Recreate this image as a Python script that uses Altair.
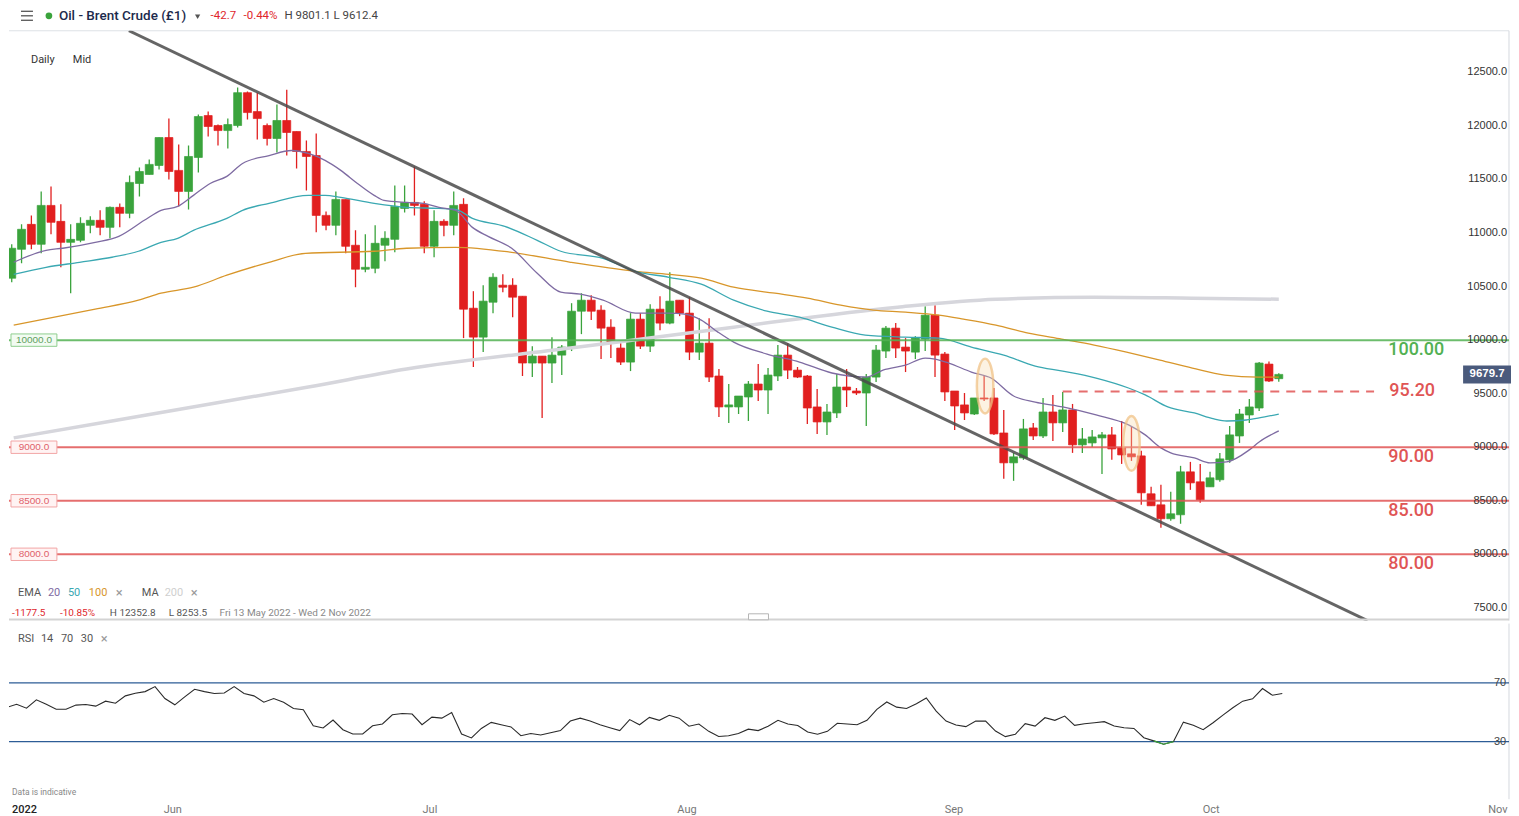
import altair as alt
import pandas as pd

FONT = "Roboto"
AXFONT = "Liberation Sans"
GREEN = "#3aa33c"
RED = "#e11f1f"
LEVEL_RED = "#e05555"
LEVEL_GREEN = "#52b152"

# ---------------- data ----------------
# daily bar index (IG style 6 bars / week), bar 0 = Sun 15 May 2022
bar_index = list(range(-1, 129))
open_price = [10578,10848,11081,10895,11258,11109,10913,10932,11072,11119,
              11053,11240,11184,11463,11547,11631,11892,11585,11389,11706,
              12097,12004,11957,12004,12311,12134,12004,11883,12051,11948,
              11762,11724,11165,11072,11314,10886,10662,10671,10886,10941,
              11230,11286,11268,10876,11109,11072,11268,10298,10028,10354,
              10513,10513,10410,9786,9851,9786,9860,9926,10270,10373,
              10280,10121,9926,9795,10196,9944,10289,10159,10373,10252,
              9888,9972,9665,9376,9376,9469,9590,9534,9665,9860,
              9720,9665,9376,9236,9320,9562,9525,9506,9655,9898,
              10112,9935,9888,10009,10233,9870,9525,9395,9310,9460,
              9460,9133,8854,8900,9180,9105,9329,9227,9348,9022,
              9040,9087,9115,8994,8938,8919,8565,8462,8332,8369,
              8770,8677,8630,8696,8882,9105,9301,9366,9776,9640]
high_price = [10895,11081,11165,11389,11435,11268,11081,11147,11156,11212,
              11249,11277,11538,11613,11687,11892,12069,11827,11818,12106,
              12134,12013,12069,12358,12321,12311,12023,12200,12339,11948,
              11864,11929,11202,11389,11314,11025,10988,11072,11016,11445,
              11445,11622,11296,11212,11128,11389,11324,10457,10513,10625,
              10615,10578,10410,9944,9851,10028,9954,10345,10438,10420,
              10326,10196,9972,10252,10252,10336,10410,10634,10373,10401,
              10205,10205,9730,9590,9478,9618,9776,9739,9954,9972,
              9749,9674,9544,9404,9683,9730,9553,9683,9954,10131,
              10159,10019,10037,10317,10326,9888,9525,9506,9460,9674,
              9553,9348,8947,9264,9227,9460,9488,9516,9404,9180,
              9161,9143,9189,9245,9189,8966,8630,8649,8583,8826,
              8863,8844,8770,8947,9199,9357,9450,9795,9801,9690]
low_price = [10541,10718,10848,10811,10988,10680,10438,10913,10997,10979,
             10951,11053,11137,11342,11547,11594,11501,11249,11221,11566,
             11901,11818,11790,11985,12060,11874,11818,11752,11724,11603,
             11398,11007,11025,10979,10811,10494,10634,10625,10736,10820,
             11193,11165,10811,10774,10969,10979,10019,9749,9888,10252,
             10448,10214,9665,9655,9273,9599,9674,9898,10056,10187,
             9823,9832,9767,9711,9916,9888,10093,10149,10224,9814,
             9814,9609,9282,9227,9310,9245,9432,9310,9618,9637,
             9646,9217,9124,9115,9273,9376,9488,9199,9609,9832,
             9832,9702,9823,9898,9655,9432,9161,9254,9301,9432,
             9115,8705,8686,8882,9068,9087,9059,9143,8947,8947,
             9003,8751,8882,8844,8872,8462,8453,8248,8313,8285,
             8602,8481,8630,8677,8854,9040,9227,9338,9609,9612]
close_price = [10858,11035,10895,11258,11100,10913,10941,11091,11119,11053,
               11240,11184,11473,11575,11641,11892,11575,11389,11715,12088,
               11995,11957,12013,12311,12125,12069,11883,12051,11939,11762,
               11715,11165,11072,11314,10876,10662,10680,10904,10951,11249,
               11286,11258,10876,11109,11072,11258,10289,10028,10364,10587,
               10494,10401,9786,9851,9786,9860,9935,10270,10373,10270,
               10112,9972,9795,10196,9944,10289,10159,10364,10252,9888,
               9972,9655,9376,9395,9478,9590,9534,9674,9860,9720,
               9655,9366,9236,9329,9562,9534,9506,9655,9907,10112,
               9926,9898,10019,10233,9860,9516,9385,9320,9460,9450,
               9124,8854,8910,9171,9105,9329,9227,9348,9022,9077,
               9096,9115,8984,8928,8910,8574,8453,8332,8378,8770,
               8667,8509,8714,8891,9115,9310,9376,9786,9618,9680]
rsi_value = [53.3,55.5,52.8,58.5,55.5,52.1,52.1,54.9,55.3,54.2,
             57.6,56.2,61.2,63.0,64.1,67.5,59.4,55.1,60.5,65.7,
             64.1,62.8,63.2,67.5,62.8,61.2,56.9,59.4,56.9,52.6,
             51.7,40.8,39.3,44.7,38.1,35.2,35.2,40.8,42.0,48.3,
             49.2,48.8,41.5,46.7,46.0,49.9,35.2,32.5,39.0,43.1,
             41.5,40.0,34.0,35.5,34.5,36.0,37.5,44.0,46.0,44.0,
             41.5,39.5,37.5,45.0,41.5,46.5,44.5,48.0,46.0,40.5,
             42.0,37.0,33.5,34.0,35.5,38.5,37.5,40.5,44.5,42.0,
             41.0,36.5,35.0,37.0,42.5,42.0,41.5,44.5,52.0,57.0,
             53.5,52.6,55.8,59.8,50.8,44.0,41.3,40.2,44.0,44.0,
             37.2,33.4,35.0,42.2,40.6,46.3,44.5,47.4,41.1,42.2,
             42.9,43.6,40.6,39.5,39.0,32.7,30.5,28.2,30.0,43.3,
             41.1,38.1,42.9,48.1,53.1,57.6,59.2,66.2,61.6,62.8]

ema20_k = [-0.8,2.5,4.2,7.5,9.9,12.5,14.2,15.9,17.5,19.2,20.9,22.5,25.2,27.5,29.2,30.9,
           32.5,34.2,35.9,36.9,39.2,40.9,42.5,44.2,45.9,47.5,49.9,52.5,54.9,56.9,59.2,
           62.5,65.9,67.5,69.2,70.9,72.5,75.9,79.2,82.5,86.0,87.7,90.0,92.0,93.0,94.4,
           96.7,98.7,101.0,103.2,106.0,109.4,112.7,114.4,116.0,117.0,119.4,121.0,122.7,
           125.0,126.0,128.0]
ema20_v = [10727,10839,10858,10913,10969,11119,11212,11249,11352,11463,11529,11650,11724,
           11771,11743,11678,11585,11463,11352,11305,11286,11277,11240,11212,11053,10969,
           10858,10625,10448,10429,10373,10252,10252,10242,10187,10075,9982,9870,9795,9693,
           9655,9720,9767,9832,9823,9786,9702,9646,9478,9422,9376,9301,9208,9115,8994,8947,
           8900,8854,8863,8975,9049,9152]
ema50_k = [-0.8,2.5,5.9,9.2,11.9,14.2,15.9,17.5,20.9,22.5,25.2,29.2,30.9,32.5,35.9,39.2,
           42.5,44.2,45.9,49.2,52.5,54.9,59.2,62.5,65.9,69.2,72.5,75.9,79.2,82.5,85.9,
           90.0,93.4,96.7,100.0,103.2,106.0,109.4,112.7,114.4,116.7,119.4,121.4,122.7,
           124.7,126.0,128.0]
ema50_v = [10615,10680,10727,10774,10830,10913,10951,11025,11137,11212,11277,11352,11352,
           11333,11277,11240,11230,11221,11137,11063,10932,10830,10764,10643,10587,10522,
           10373,10270,10214,10121,10047,10028,10019,9935,9860,9758,9711,9646,9553,9488,
           9376,9320,9264,9245,9254,9273,9310]
ema100_k = [-0.8,7.5,11.9,14.2,17.5,20.9,25.2,28.9,35.9,39.2,44.2,49.9,55.9,62.5,65.9,
            69.2,72.5,76.7,80.0,83.4,86.7,90.0,93.4,95.9,99.2,102.5,105.9,109.2,112.5,
            115.9,119.2,122.5,125.9,128.0]
ema100_v = [10140,10289,10373,10438,10494,10606,10727,10811,10830,10858,10867,10820,10727,
            10643,10615,10578,10494,10438,10392,10326,10280,10261,10233,10196,10140,10065,
            10009,9954,9888,9814,9739,9674,9655,9655]
ma200_k = [-0.8,9.2,19.2,29.2,39.2,55.9,72.5,89.2,99.2,109.2,119.2,128.0]
ma200_v = [9087,9245,9404,9562,9730,9926,10121,10308,10382,10401,10392,10382]

trend_k = [10.93, 137.03]
trend_v = [12889, 7381]

resistance_level = [10000]
support_levels = [9000, 8500, 8000]
dashed_level = 9520
dashed_from = 106
dashed_to = 137.7
big_level_values = [10000, 9000, 8500, 8000]
big_level_text = ["100.00", "90.00", "85.00", "80.00"]
big_level_color = [LEVEL_GREEN, LEVEL_RED, LEVEL_RED, LEVEL_RED]
price_ticks = [7500, 8000, 8500, 9000, 9500, 10000, 10500, 11000, 11500, 12000, 12500]
rsi_ticks = [70, 30]
month_names = ["Jun", "Jul", "Aug", "Sep", "Oct", "Nov"]
month_pos = [15.8, 41.8, 67.8, 94.8, 120.8, 149.8]
highlight_k = [98.1, 113.0]
highlight_v = [9571, 9036]
last_price = 9679.7

# ---------------- layout ----------------
W = 1503
HM = 591
HR = 176
XS = alt.Scale(domain=[-0.77, 150.93], nice=False, zero=False)
PS = alt.Scale(domain=[7381, 12889], nice=False, zero=False)
RS = alt.Scale(domain=[-9.3, 110.5], nice=False, zero=False)
ONE = pd.DataFrame({"a": [0]})


def xk(f="k"):
    return alt.X(f"{f}:Q", scale=XS, axis=None)


def yp(f="v"):
    return alt.Y(f"{f}:Q", scale=PS, axis=None)


def yr(f="v"):
    return alt.Y(f"{f}:Q", scale=RS, axis=None)


def txt(s, x, y, color="#444", size=11, weight="normal", align="left", font=FONT):
    return alt.Chart(ONE).mark_text(
        align=align, baseline="middle", font=font, fontSize=size, color=color, fontWeight=weight
    ).encode(x=alt.value(x), y=alt.value(y), text=alt.value(s))


def hrule(x1, x2, y, color, width=1):
    return alt.Chart(ONE).mark_rule(color=color, strokeWidth=width).encode(
        x=alt.value(x1), x2=alt.value(x2), y=alt.value(y))


def vrule(x, y1, y2, color, width=1):
    return alt.Chart(ONE).mark_rule(color=color, strokeWidth=width).encode(
        x=alt.value(x), y=alt.value(y1), y2=alt.value(y2))


def series_line(ks, vs, color, width, opacity=1.0, interp="monotone"):
    d = pd.DataFrame({"k": ks, "v": vs})
    return alt.Chart(d).mark_line(color=color, strokeWidth=width, opacity=opacity,
                                  interpolate=interp, clip=True).encode(x=xk(), y=yp())


# ---------------- main panel ----------------
cdf = pd.DataFrame({"k": bar_index, "o": open_price, "h": high_price, "l": low_price, "c": close_price})
cdf["dir"] = ["up" if c >= o else "down" for o, c in zip(open_price, close_price)]
dir_scale = alt.Scale(domain=["up", "down"], range=[GREEN, RED])

wicks = alt.Chart(cdf).mark_rule(strokeWidth=1.3, clip=True).encode(
    x=xk(), y=yp("l"), y2="h:Q", color=alt.Color("dir:N", scale=dir_scale, legend=None))
bodies = alt.Chart(cdf).mark_bar(width=8, clip=True, strokeWidth=0.7).encode(
    x=xk(), y=yp("o"), y2="c:Q",
    color=alt.Color("dir:N", scale=dir_scale, legend=None),
    stroke=alt.Stroke("dir:N", scale=dir_scale, legend=None))

ma200 = series_line(ma200_k, ma200_v, "#d6d6dc", 3.5)
ema100 = series_line(ema100_k, ema100_v, "#d8962a", 1.3)
ema50 = series_line(ema50_k, ema50_v, "#3aa8b2", 1.3)
ema20 = series_line(ema20_k, ema20_v, "#7e6ba2", 1.3)
trend = series_line(trend_k, trend_v, "#4a4a4a", 3, opacity=0.85, interp="linear")

res_rule = alt.Chart(pd.DataFrame({"v": resistance_level})).mark_rule(
    color=LEVEL_GREEN, strokeWidth=2, opacity=0.85).encode(y=yp())
sup_rule = alt.Chart(pd.DataFrame({"v": support_levels})).mark_rule(
    color=LEVEL_RED, strokeWidth=2, opacity=0.85).encode(y=yp())
dash_rule = alt.Chart(pd.DataFrame({"k": [dashed_from], "k2": [dashed_to], "v": [dashed_level]})).mark_rule(
    color=LEVEL_RED, strokeWidth=2, strokeDash=[9, 7], opacity=0.85).encode(x=xk(), x2="k2:Q", y=yp())

ELL = "M-0.3,0A0.3,1,0,1,0,0.3,0A0.3,1,0,1,0,-0.3,0Z"
ellipses = alt.Chart(pd.DataFrame({"k": highlight_k, "v": highlight_v})).mark_point(
    shape=ELL, size=3025, filled=True, fill="#f6d9ad", fillOpacity=0.35,
    stroke="#efbf80", strokeWidth=2.5, strokeOpacity=0.7, opacity=1).encode(x=xk(), y=yp())

tick_df = pd.DataFrame({"v": price_ticks, "t": [f"{t:.1f}" for t in price_ticks]})
tick_labels = alt.Chart(tick_df).mark_text(
    align="right", baseline="middle", font=AXFONT, fontSize=11, color="#333").encode(
    x=alt.value(W - 2), y=yp(), text="t:N")

big_df = pd.DataFrame({"v": big_level_values, "t": big_level_text, "c": big_level_color})
big_labels = alt.Chart(big_df).mark_text(
    align="left", baseline="middle", font=FONT, fontSize=18, fontWeight=500, dy=10).encode(
    x=alt.value(W - 121), y=yp(), text="t:N", color=alt.Color("c:N", scale=None))
dash_label = alt.Chart(pd.DataFrame({"v": [dashed_level], "t": [f"{dashed_level / 100:.2f}"]})).mark_text(
    align="left", baseline="middle", font=FONT, fontSize=18, fontWeight=500, color=LEVEL_RED, dy=-1).encode(
    x=alt.value(W - 120), y=yp(), text="t:N")

BOX = "M-1,-0.27L1,-0.27L1,0.27L-1,0.27Z"
box_df = pd.DataFrame({
    "v": resistance_level + support_levels,
    "t": [f"{v:.1f}" for v in resistance_level + support_levels],
    "fill": ["#f2fbf2"] + ["#fff3f3"] * 3,
    "stroke": ["#8fce8f"] + ["#f2a5a5"] * 3,
    "tc": ["#5f9f5f"] + ["#e0606a"] * 3,
})
boxes = alt.Chart(box_df).mark_point(shape=BOX, size=2116, filled=True, strokeWidth=1, opacity=1).encode(
    x=alt.value(25), y=yp(), fill=alt.Fill("fill:N", scale=None), stroke=alt.Stroke("stroke:N", scale=None))
box_text = alt.Chart(box_df).mark_text(align="center", baseline="middle", font=AXFONT, fontSize=10).encode(
    x=alt.value(25), y=yp(), text="t:N", color=alt.Color("tc:N", scale=None))

TAG = "M-1,-0.375L1,-0.375L1,0.375L-1,0.375Z"
tag_df = pd.DataFrame({"v": [last_price], "t": [f"{last_price:.1f}"]})
tag = alt.Chart(tag_df).mark_point(shape=TAG, size=2304, filled=True, color="#4a5a7c", opacity=1).encode(
    x=alt.value(W - 22), y=yp())
tag_text = alt.Chart(tag_df).mark_text(align="center", baseline="middle", font=AXFONT, fontSize=11.5,
                                       fontWeight="bold", color="white").encode(
    x=alt.value(W - 22), y=yp(), text="t:N")

HANDLE = "M-1,-0.3L1,-0.3L1,0.3L-1,0.3Z"
handle = alt.Chart(ONE).mark_point(shape=HANDLE, size=400, filled=True, fill="white",
                                   stroke="#b5b5b5", strokeWidth=1, opacity=1).encode(
    x=alt.value(751), y=alt.value(HM - 3.8))

dot = alt.Chart(ONE).mark_point(shape="circle", size=45, filled=True, color=GREEN, opacity=1).encode(
    x=alt.value(40), y=alt.value(-15))
caret = alt.Chart(ONE).mark_point(shape="triangle-down", size=28, filled=True, color="#555", opacity=1).encode(
    x=alt.value(189), y=alt.value(-14))

main_layers = [
    hrule(0, W, 0, "#dde1e6"),
    vrule(W, 0, HM, "#d4d8de"),
    wicks, bodies,
    ma200, ema100, ema50, ema20, trend,
    res_rule, sup_rule, dash_rule,
    ellipses,
    tick_labels, big_labels, dash_label,
    boxes, box_text,
    tag, tag_text,
    hrule(0, W, HM - 1, "#d3d3d3", 2),
    handle,
    hrule(12, 24, -19.5, "#555", 1.3), hrule(12, 24, -15, "#555", 1.3), hrule(12, 24, -10.5, "#555", 1.3),
    dot, caret,
    txt("Oil - Brent Crude (£1)", 50, -15, "#1c2a4c", 13.5, 500),
    txt("-42.7", 202, -15, "#e0262b", 11.5),
    txt("-0.44%", 235, -15, "#e0262b", 11.5),
    txt("H 9801.1  L 9612.4", 276, -15, "#444", 11.5),
    txt("Daily", 22, 29, "#333", 11),
    txt("Mid", 64, 29, "#333", 11),
    txt("EMA", 9, 563, "#555", 11),
    txt("20", 39, 563, "#7e6ba2", 11),
    txt("50", 59, 563, "#3aa8b2", 11),
    txt("100", 80, 563, "#d8962a", 11),
    txt("×", 107, 563, "#999", 13),
    txt("MA", 133, 563, "#555", 11),
    txt("200", 156, 563, "#cfcfcf", 11),
    txt("×", 182, 563, "#999", 13),
    txt("-1177.5", 3, 583, "#e0262b", 10),
    txt("-10.85%", 51, 583, "#e0262b", 10),
    txt("H 12352.8", 101, 583, "#555", 10),
    txt("L 8253.5", 160, 583, "#555", 10),
    txt("Fri 13 May 2022 - Wed 2 Nov 2022", 211, 583, "#888", 10),
]
main = alt.layer(*main_layers).properties(width=W, height=HM)

# ---------------- RSI panel ----------------
rdf = pd.DataFrame({"k": bar_index, "v": rsi_value})
rsi_line = alt.Chart(rdf).mark_line(color="#2a2a2a", strokeWidth=1.1, clip=True).encode(x=xk(), y=yr())
rsi_low = alt.Chart(rdf[rdf["v"] < 31]).mark_line(color=GREEN, strokeWidth=1.1, clip=True).encode(
    x=xk(), y=yr())
rsi_rules = alt.Chart(pd.DataFrame({"v": rsi_ticks})).mark_rule(color="#2d5d96", strokeWidth=1.2).encode(y=yr())
rsi_tick_text = alt.Chart(pd.DataFrame({"v": rsi_ticks, "t": [str(t) for t in rsi_ticks]})).mark_text(
    align="center", baseline="middle", font=AXFONT, fontSize=11, color="#444").encode(
    x=alt.value(W - 9), y=yr(), text="t:N")
months = alt.Chart(pd.DataFrame({"k": month_pos, "m": month_names})).mark_text(
    align="center", baseline="middle", font=FONT, fontSize=11, color="#777").encode(
    x=xk(), y=alt.value(HR + 11), text="m:N")

rsi_layers = [
    vrule(W, 0, HR, "#d4d8de"),
    rsi_rules, rsi_line, rsi_low, rsi_tick_text, months,
    txt("RSI", 9, 15, "#555", 11),
    txt("14", 32, 15, "#555", 11),
    txt("70", 52, 15, "#555", 11),
    txt("30", 72, 15, "#555", 11),
    txt("×", 92, 15, "#999", 13),
    txt("Data is indicative", 3, 169, "#888", 8.5),
    txt("2022", 3, HR + 11, "#222", 11, 500),
]
rsi = alt.layer(*rsi_layers).properties(width=W, height=HR)

chart = alt.vconcat(main, rsi, spacing=0, padding=0, background="white").configure_view(stroke=None)
chart.save("out.html", embed_options={"renderer": "svg", "actions": False})
